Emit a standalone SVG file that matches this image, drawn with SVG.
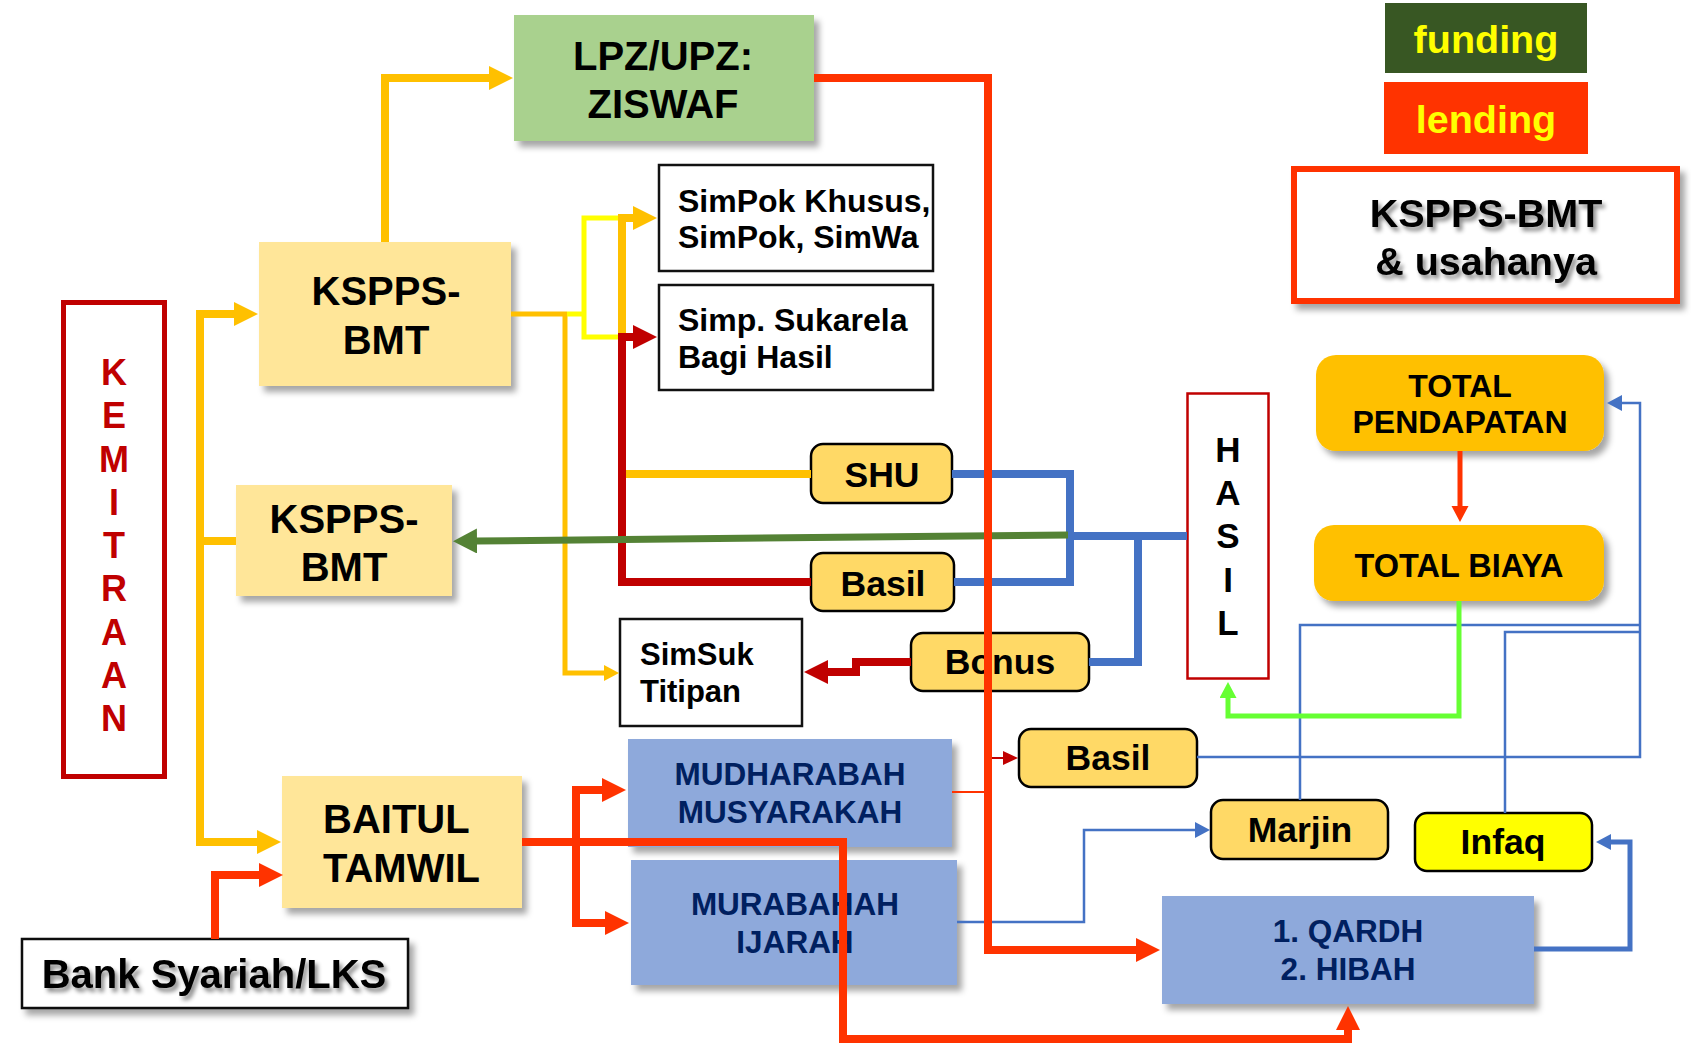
<svg xmlns="http://www.w3.org/2000/svg" width="1691" height="1052" viewBox="0 0 1691 1052">
<defs>
<style>
text{font-family:"Liberation Sans",Arial,sans-serif;font-weight:bold;fill:#000}
.c{text-anchor:middle}
.ln{fill:none;stroke-linejoin:miter;stroke-linecap:butt}
.yl{stroke:#FFC000}
.by{stroke:#FFFF00}
.rd{stroke:#FF3300}
.dr{stroke:#C00000}
.bl{stroke:#4472C4}
.gr{stroke:#548235}
.lg{stroke:#66FF33}
.rb{fill:#FFD966;stroke:#000;stroke-width:2.5}
.wb{fill:#fff;stroke:#111;stroke-width:2.5}
.kb{fill:#FFE699}
.pb{fill:#8EA9DB}
.nv{fill:#002060}
.km{fill:#C00000}
</style>
<filter id="sh" x="-10%" y="-10%" width="130%" height="140%"><feDropShadow dx="5" dy="6" stdDeviation="3" flood-color="#000" flood-opacity="0.35"/></filter>
<filter id="tsh" x="-10%" y="-20%" width="130%" height="160%"><feDropShadow dx="3" dy="4" stdDeviation="2" flood-color="#000" flood-opacity="0.45"/></filter>
<marker id="aY" markerUnits="userSpaceOnUse" markerWidth="26" markerHeight="26" refX="1" refY="12" orient="auto"><path d="M0,0 L24,12 L0,24 z" fill="#FFC000"/></marker>
<marker id="aYs" markerUnits="userSpaceOnUse" markerWidth="18" markerHeight="18" refX="1" refY="8" orient="auto"><path d="M0,0 L15,8 L0,16 z" fill="#FFC000"/></marker>
<marker id="aR" markerUnits="userSpaceOnUse" markerWidth="26" markerHeight="26" refX="1" refY="12" orient="auto"><path d="M0,0 L24,12 L0,24 z" fill="#FF3300"/></marker>
<marker id="aRs" markerUnits="userSpaceOnUse" markerWidth="18" markerHeight="18" refX="1" refY="8.5" orient="auto"><path d="M0,0 L16,8.5 L0,17 z" fill="#FF3300"/></marker>
<marker id="aDR" markerUnits="userSpaceOnUse" markerWidth="26" markerHeight="26" refX="1" refY="12" orient="auto"><path d="M0,0 L24,12 L0,24 z" fill="#C00000"/></marker>
<marker id="aDRs" markerUnits="userSpaceOnUse" markerWidth="18" markerHeight="16" refX="1" refY="7" orient="auto"><path d="M0,0 L15,7 L0,14 z" fill="#C00000"/></marker>
<marker id="aG" markerUnits="userSpaceOnUse" markerWidth="26" markerHeight="26" refX="1" refY="12.5" orient="auto"><path d="M0,0 L24,12.5 L0,25 z" fill="#548235"/></marker>
<marker id="aLG" markerUnits="userSpaceOnUse" markerWidth="18" markerHeight="18" refX="1" refY="8.5" orient="auto"><path d="M0,0 L16,8.5 L0,17 z" fill="#66FF33"/></marker>
<marker id="aB" markerUnits="userSpaceOnUse" markerWidth="18" markerHeight="18" refX="1" refY="8" orient="auto"><path d="M0,0 L15,8 L0,16 z" fill="#4472C4"/></marker>
</defs>
<rect width="1691" height="1052" fill="#fff"/>

<g id="nodes">
<g id="legend-funding"><rect x="1385" y="3" width="202" height="70" fill="#385723"/><text class="c" x="1486" y="53" font-size="39.5" style="fill:#FFFF00">funding</text></g>
<g id="legend-lending"><rect x="1384" y="82" width="204" height="72" fill="#FF3300"/><text class="c" x="1486" y="133" font-size="39.5" style="fill:#FFFF00">lending</text></g>
<g id="kspps-usahanya"><rect x="1294" y="169" width="383" height="132" fill="#fff" stroke="#FF3300" stroke-width="6" filter="url(#sh)"/><g filter="url(#tsh)"><text class="c" x="1486" y="227" font-size="39.5">KSPPS-BMT</text><text class="c" x="1486" y="275" font-size="39.5">&amp; usahanya</text></g></g>

<g id="kemitraan"><rect x="63.5" y="302.5" width="101" height="474" fill="#fff" stroke="#C00000" stroke-width="5"/>
<g font-size="36"><text class="c km" x="114" y="385">K</text><text class="c km" x="114" y="428">E</text><text class="c km" x="114" y="472">M</text><text class="c km" x="114" y="515">I</text><text class="c km" x="114" y="558">T</text><text class="c km" x="114" y="601">R</text><text class="c km" x="114" y="645">A</text><text class="c km" x="114" y="688">A</text><text class="c km" x="114" y="731">N</text></g></g>

<g id="lpz"><rect x="514" y="15" width="300" height="126" fill="#A9D18E" filter="url(#sh)"/><text class="c" x="663" y="70" font-size="40">LPZ/UPZ:</text><text class="c" x="663" y="118" font-size="40">ZISWAF</text></g>
<g id="kspps1"><rect class="kb" x="259" y="242" width="252" height="144" filter="url(#sh)"/><text class="c" x="386" y="305" font-size="40">KSPPS-</text><text class="c" x="386" y="354" font-size="40">BMT</text></g>
<g id="kspps2"><rect class="kb" x="236" y="485" width="216" height="111" filter="url(#sh)"/><text class="c" x="344" y="533" font-size="40">KSPPS-</text><text class="c" x="344" y="581" font-size="40">BMT</text></g>
<g id="baitul"><rect class="kb" x="282" y="776" width="240" height="132" filter="url(#sh)"/><text x="323" y="833" font-size="40">BAITUL</text><text x="323" y="882" font-size="40">TAMWIL</text></g>
<g id="bank"><rect class="wb" x="22" y="939" width="386" height="69" filter="url(#sh)"/><text class="c" x="214" y="988" font-size="40" filter="url(#tsh)">Bank Syariah/LKS</text></g>

<g id="simpok"><rect class="wb" x="659" y="165" width="274" height="106"/><text x="678" y="212" font-size="32">SimPok Khusus,</text><text x="678" y="248" font-size="32">SimPok, SimWa</text></g>
<g id="simpsuk"><rect class="wb" x="659" y="285" width="274" height="105"/><text x="678" y="331" font-size="32">Simp. Sukarela</text><text x="678" y="368" font-size="32">Bagi Hasil</text></g>
<g id="simsuk"><rect class="wb" x="620" y="619" width="182" height="107"/><text x="640" y="665" font-size="31">SimSuk</text><text x="640" y="702" font-size="31">Titipan</text></g>

<g id="shu"><rect class="rb" x="811" y="444" width="141" height="59" rx="12"/><text class="c" x="882" y="487" font-size="35.5">SHU</text></g>
<g id="basil1"><rect class="rb" x="811" y="553" width="143" height="58" rx="12"/><text class="c" x="883" y="596" font-size="35.5">Basil</text></g>
<g id="bonus"><rect class="rb" x="911" y="633" width="178" height="58" rx="12"/><text class="c" x="1000" y="674" font-size="35.5">Bonus</text></g>
<g id="basil2"><rect class="rb" x="1019" y="729" width="178" height="58" rx="12"/><text class="c" x="1108" y="770" font-size="35.5">Basil</text></g>
<g id="marjin"><rect class="rb" x="1211" y="800" width="177" height="59" rx="12"/><text class="c" x="1300" y="842" font-size="35.5">Marjin</text></g>
<g id="infaq"><rect class="rb" x="1415" y="813" width="177" height="58" rx="12" style="fill:#FFFF00"/><text class="c" x="1503" y="854" font-size="35.5">Infaq</text></g>

<g id="mudharabah"><rect class="pb" x="628" y="739" width="324" height="108" filter="url(#sh)"/><text class="c nv" x="790" y="785" font-size="31.5">MUDHARABAH</text><text class="c nv" x="790" y="823" font-size="31.5">MUSYARAKAH</text></g>
<g id="murabahah"><rect class="pb" x="631" y="860" width="326" height="125" filter="url(#sh)"/><text class="c nv" x="795" y="915" font-size="31.5">MURABAHAH</text><text class="c nv" x="795" y="953" font-size="31.5">IJARAH</text></g>
<g id="qardh"><rect class="pb" x="1162" y="896" width="372" height="108" filter="url(#sh)"/><text class="c nv" x="1348" y="942" font-size="31.5">1. QARDH</text><text class="c nv" x="1348" y="980" font-size="31.5">2. HIBAH</text></g>

<g id="hasil"><rect x="1187.5" y="393.5" width="81" height="285" fill="#fff" stroke="#C00000" stroke-width="2.5"/>
<text class="c" x="1228" y="462" font-size="35">H</text><text class="c" x="1228" y="505" font-size="35">A</text><text class="c" x="1228" y="548" font-size="35">S</text><text class="c" x="1228" y="592" font-size="35">I</text><text class="c" x="1228" y="635" font-size="35">L</text></g>
<g id="total-pendapatan"><rect x="1316" y="355" width="288" height="96" rx="20" fill="#FFC000" filter="url(#sh)"/><text class="c" x="1460" y="397" font-size="32">TOTAL</text><text class="c" x="1460" y="433" font-size="32">PENDAPATAN</text></g>
<g id="total-biaya"><rect x="1314" y="525" width="290" height="76" rx="20" fill="#FFC000" filter="url(#sh)"/><text class="c" x="1459" y="577" font-size="32.5">TOTAL BIAYA</text></g>
</g>

<g id="connectors">
<path class="ln yl" stroke-width="8" d="M385,242 V78 H490" marker-end="url(#aY)"/>
<path class="ln yl" stroke-width="8" d="M200,545 V314 H235" marker-end="url(#aY)"/>
<path class="ln yl" stroke-width="8" d="M200,537 V842 H258" marker-end="url(#aY)"/>
<path class="ln yl" stroke-width="8" d="M196,541 H236"/>
<path class="ln yl" stroke-width="5" d="M511,314 H567"/>
<path class="ln yl" stroke-width="5" d="M565,314 V673 H605" marker-end="url(#aYs)"/>
<path class="ln by" stroke-width="5" d="M567,314 H584"/>
<path class="ln by" stroke-width="5" d="M622,218 H584 V337 H622"/>
<path class="ln yl" stroke-width="8" d="M622,474 V218 H634" marker-end="url(#aY)"/>
<path class="ln yl" stroke-width="8" d="M618,474 H811"/>
<path class="ln dr" stroke-width="8" d="M811,582 H622 V337 H634" marker-end="url(#aDR)"/>
<path class="ln bl" stroke-width="8" d="M952,474 H1070 V582 H954"/>
<path class="ln bl" stroke-width="8" d="M1066,536 H1187"/>
<path class="ln bl" stroke-width="8" d="M1138,536 V662 H1089"/>
<path class="ln gr" stroke-width="7" d="M1068,535 L476,541" marker-end="url(#aG)"/>
<path class="ln dr" stroke-width="8" d="M911,662 H856 V672 H827" marker-end="url(#aDR)"/>
<path class="ln bl" stroke-width="2.5" d="M1197,757 H1640 V403 H1621" marker-end="url(#aB)"/>
<path class="ln bl" stroke-width="2.5" d="M1300,800 V625 H1640"/>
<path class="ln bl" stroke-width="2.5" d="M1505,813 V632 H1640"/>
<path class="ln bl" stroke-width="2.5" d="M957,922 H1084 V830 H1196" marker-end="url(#aB)"/>
<path class="ln bl" stroke-width="5" d="M1534,949 H1630 V842 H1610" marker-end="url(#aB)"/>
<path class="ln lg" stroke-width="5" d="M1459,601 V716 H1228 V697" marker-end="url(#aLG)"/>
<path class="ln rd" stroke-width="5" d="M1460,451 V507" marker-end="url(#aRs)"/>
<path class="ln rd" stroke-width="2" d="M952,792 H988"/>
<path class="ln dr" stroke-width="2" d="M988,758 H1004" marker-end="url(#aDRs)"/>
<path class="ln rd" stroke-width="8" d="M814,78 H988 V950 H1137" marker-end="url(#aR)"/>
<path class="ln rd" stroke-width="8" d="M215,939 V875 H260" marker-end="url(#aR)"/>
<path class="ln rd" stroke-width="8" d="M522,842 H843 V1039 H1348 V1029" marker-end="url(#aR)"/>
<path class="ln rd" stroke-width="8" d="M576,842 V790 H603" marker-end="url(#aR)"/>
<path class="ln rd" stroke-width="8" d="M576,842 V923 H606" marker-end="url(#aR)"/>
</g>
</svg>
